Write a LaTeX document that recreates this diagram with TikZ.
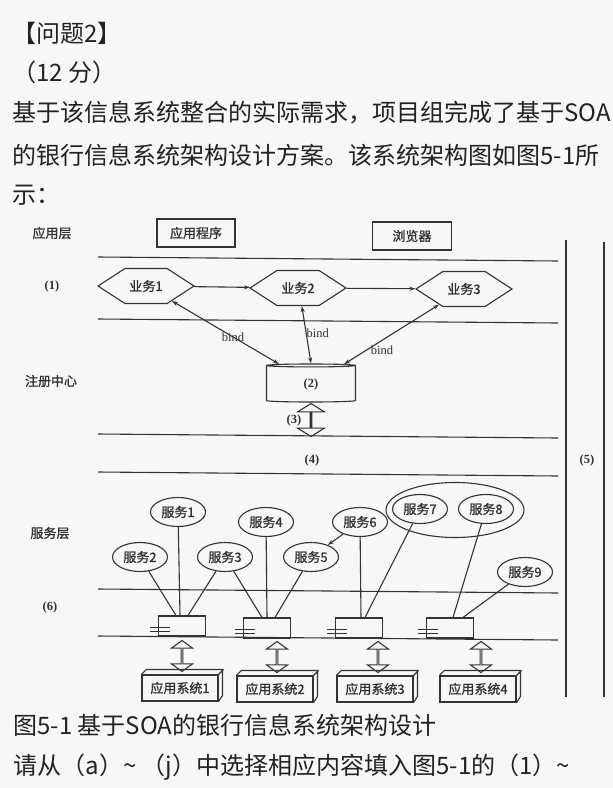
\documentclass[tikz,border=0pt]{standalone}
\usepackage{fontspec}
\setmainfont{Liberation Serif}
\newfontfamily\cjk{Noto Sans CJK SC}
\newfontfamily\cjkheavy[FakeBold=1.2]{Noto Sans CJK SC}
\usetikzlibrary{arrows.meta,shapes.geometric,shapes.symbols,shapes.arrows}

\definecolor{paper}{HTML}{F7F7F7}
\definecolor{ink}{HTML}{222222}
\definecolor{scan}{HTML}{333333}

\begin{document}
\begin{tikzpicture}[x=1pt, y=-1pt, >={Stealth[length=6pt,width=4pt]}, line width=1.1pt,
    every node/.style={text=scan, inner sep=0pt},
    head/.style={anchor=west, font=\cjk\fontsize{24}{24}\selectfont, text=ink},
    lab/.style={font=\cjkheavy\fontsize{13}{13}\selectfont},
    num/.style={font=\bfseries\fontsize{12.5}{12.5}\selectfont},
    tag/.style={font=\fontsize{12.5}{12.5}\selectfont},
    biz/.style={signal, signal to=west and east, signal pointer angle=66, draw=scan, minimum width=96, minimum height=35, lab},
    svc/.style={ellipse, draw=scan, minimum width=55, minimum height=29, lab},
    bus/.style={rectangle, draw=scan, minimum width=47, minimum height=20},
    appsys/.style={rectangle, draw=scan, minimum width=76, minimum height=26, lab},
    dblarrow/.style={double arrow, draw=scan, shape border rotate=90, double arrow tip angle=108, double arrow head extend=6, double arrow head indent=0, minimum width=21, minimum height=31}]
    \fill[paper] (0,0) rectangle (613,788);
    \useasboundingbox (0,0) rectangle (613,788);

    % question text
    \node[head] (q2) at (12,33) {【问题2】};
    \node[head] (score) at (12,72) {（12 分）};
    \node[head] (para1) at (12,113) {基于该信息系统整合的实际需求，项目组完成了基于SOA};
    \node[head] (para2) at (12,155) {的银行信息系统架构设计方案。该系统架构图如图5-1所};
    \node[head] (para3) at (12,195) {示：};

    % layers
    \foreach \ya/\yb in {257/261, 319/323, 434/438, 472/476, 589/593, 636/640}
        \draw[scan] (98,\ya) -- (558,\yb);
    \draw[scan] (566,240) -- (566,697);
    \draw[scan] (604,242) -- (604,697);

    \node[lab] (applayer) at (52,233) {应用层};
    \node[num] (n1) at (52,286) {(1)};
    \node[lab] (registry) at (51,381) {注册中心};
    \node[lab] (svclayer) at (50,533) {服务层};
    \node[num] (n6) at (50,607) {(6)};
    \node[num] (n4) at (312,460) {(4)};
    \node[num] (n5) at (587,460) {(5)};

    \node[draw=scan, lab, minimum width=78, minimum height=28] (prog) at (196,233) {应用程序};
    \node[draw=scan, lab, minimum width=79, minimum height=28] (browser) at (412,236) {浏览器};

    % business processes
    \node[biz] (b1) at (146,286) {业务1};
    \node[biz] (b2) at (298,288) {业务2};
    \node[biz] (b3) at (464,289) {业务3};
    \draw[scan, ->] (b1) -- (b2);
    \draw[scan, ->] (b2) -- (b3);

    \node[cylinder, shape border rotate=90, draw=scan, aspect=0.2, minimum width=89, minimum height=38, num] (db) at (311,384) {(2)};
    \draw[scan, <->] (b1.-30) -- (db.148) node[pos=.57, tag] {bind};
    \draw[scan, <->] (b2.-78) -- (db.north) node[pos=.47, anchor=west, tag] {bind};
    \draw[scan, <->] (b3.212) -- (db.31) node[pos=.6, below=5pt, tag] {bind};

    \node[dblarrow, minimum width=27, minimum height=33, double arrow head extend=9, double arrow tip angle=116] (a3) at (311,420) {};
    \node[num] (n3) at (294,420) {(3)};

    % services
    \node[svc] (s1) at (178,512) {服务1};
    \node[svc] (s2) at (140,557) {服务2};
    \node[svc] (s3) at (225,557) {服务3};
    \node[svc] (s4) at (266,522) {服务4};
    \node[svc] (s5) at (311,557) {服务5};
    \node[svc] (s6) at (360,522) {服务6};
    \node[svc] (s7) at (420,509) {服务7};
    \node[svc] (s8) at (486,509) {服务8};
    \node[svc] (s9) at (525,572) {服务9};
    \node[ellipse, draw=scan, minimum width=138, minimum height=55] (grp) at (455,510) {};
    \draw[scan, ->] (s6) -- (s5);

    \node[bus] (e1) at (182,626) {};
    \node[bus] (e2) at (267,628) {};
    \node[bus] (e3) at (359,628) {};
    \node[bus] (e4) at (450,628) {};
    \foreach \e in {e1,e2,e3,e4} {
        \draw[scan] ([xshift=-8pt,yshift=9pt]\e.south west) -- ++(20,0);
        \draw[scan] ([xshift=-8pt,yshift=5pt]\e.south west) -- ++(20,0);
    }

    \draw[scan] (s2) -- ([xshift=-6pt]e1.north);
    \draw[scan] (s1) -- ([xshift=-2pt]e1.north);
    \draw[scan] (s3) -- ([xshift=6pt]e1.north);
    \draw[scan] (s3) -- ([xshift=-5pt]e2.north);
    \draw[scan] (s4) -- (e2.north);
    \draw[scan] (s5) -- ([xshift=8pt]e2.north);
    \draw[scan] (s6) -- ([xshift=2pt]e3.north);
    \draw[scan] (s7) -- ([xshift=6pt]e3.north);
    \draw[scan] (s8) -- ([xshift=3pt]e4.north);
    \draw[scan] (s9) -- ([xshift=13pt]e4.north);

    % application systems
    \node[appsys] (as1) at (180,688) {应用系统1};
    \node[appsys] (as2) at (275,689) {应用系统2};
    \node[appsys] (as3) at (375,689) {应用系统3};
    \node[appsys] (as4) at (478,689) {应用系统4};
    \foreach \a in {as1,as2,as3,as4}
        \draw[scan] (\a.north west) -- ++(5,-5) -- ++(76,0) -- ++(0,26) -- (\a.south east)
            (\a.north east) -- ++(5,-5);

    \node[dblarrow] (a1) at (182,656) {};
    \node[dblarrow] (a2) at (277,657) {};
    \node[dblarrow] (a3b) at (378,657) {};
    \node[dblarrow] (a4) at (481,657) {};

    % caption
    \node[head] (caption) at (13,725) {图5-1 基于SOA的银行信息系统架构设计};
    \node[head] (ask) at (13,767) {请从（a）\textasciitilde{} （j）中选择相应内容填入图5-1的（1）\textasciitilde};
\end{tikzpicture}
\end{document}
